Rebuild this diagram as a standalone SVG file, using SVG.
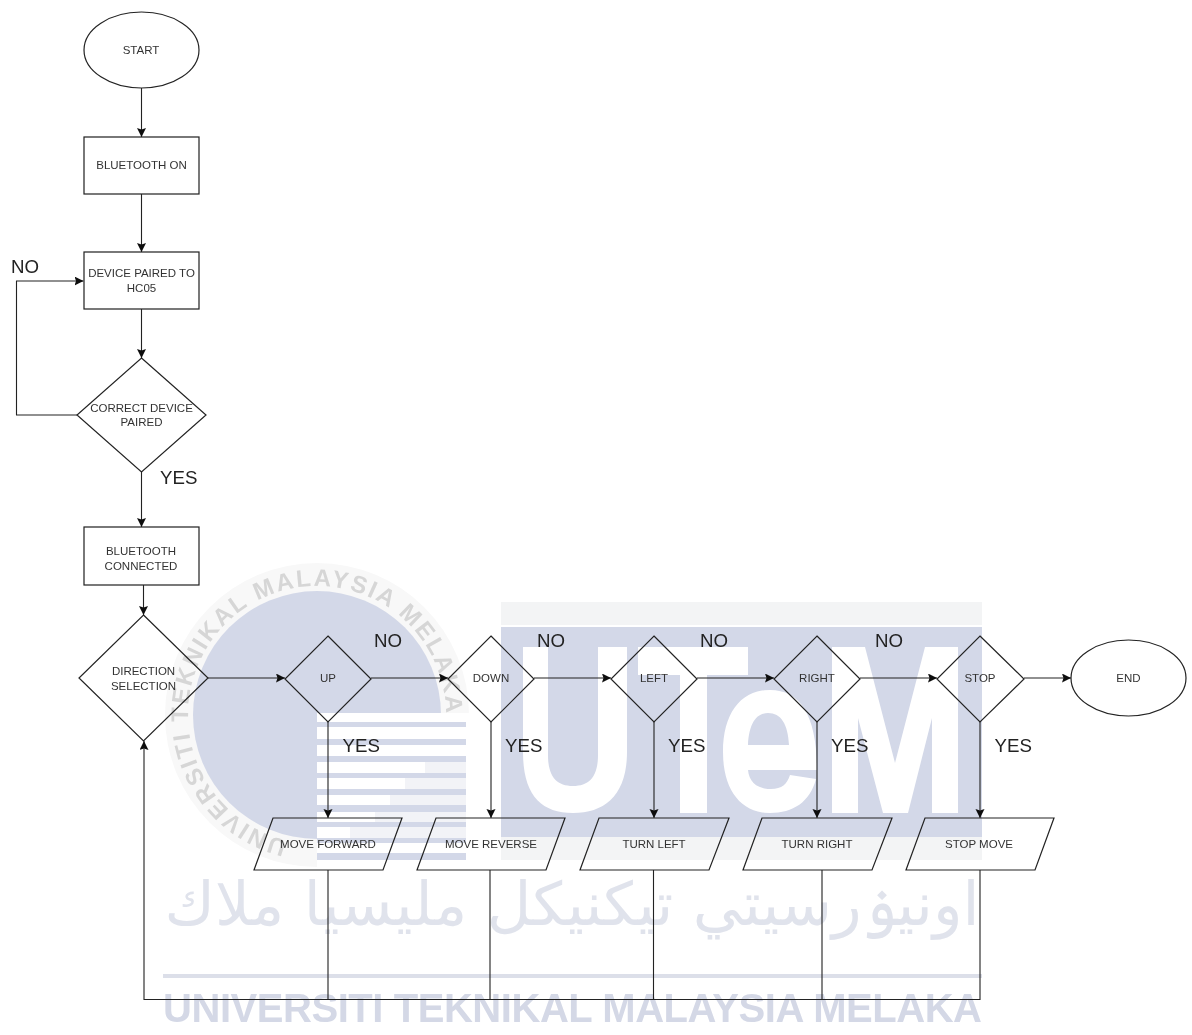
<svg xmlns="http://www.w3.org/2000/svg" width="1192" height="1035" viewBox="0 0 1192 1035">
<style>
.s{fill:none;stroke:#222;stroke-width:1.2}
.c{fill:none;stroke:#222;stroke-width:1.1}
.a{marker-end:url(#arr)}
.t{font-family:"Liberation Sans",Arial,sans-serif;font-size:11.5px;fill:#333;text-anchor:middle}
.l{font-family:"Liberation Sans",Arial,sans-serif;font-size:18.7px;fill:#222}
.wm{fill:#d3d8e8}
.f{fill:#f2f3f7}
.w{fill:#fff}
.wt{font-family:"Liberation Sans",Arial,sans-serif;font-weight:bold;fill:#d4d8e6}
</style>
<defs>
<marker id="arr" markerUnits="userSpaceOnUse" markerWidth="11" markerHeight="11" refX="9" refY="4.500" orient="auto">
<path d="M0 0L9 4.500L0 9L1.500 4.500Z" fill="#111"/>
</marker>
<filter id="b" x="-5%" y="-5%" width="110%" height="110%"><feGaussianBlur stdDeviation="0.7"/></filter>
<filter id="s" x="0" y="0" width="100%" height="100%" filterUnits="userSpaceOnUse" primitiveUnits="userSpaceOnUse"><feGaussianBlur stdDeviation="0.3"/></filter>
<path id="ring" d="M317 844A129 129 0 0 1 317 586A129 129 0 0 1 317 844"/>
</defs>
<rect width="1192" height="1035" fill="#fff"/>
<g id="watermark" filter="url(#b)">
<circle cx="317" cy="715" r="152" fill="#f8f8f8"/>
<circle cx="317" cy="715" r="124" class="wm"/>
<text class="wt" style="font-size:24px;letter-spacing:2.2px;fill:#d6d6d6"><textPath href="#ring" startOffset="30">UNIVERSITI TEKNIKAL MALAYSIA MELAKA</textPath></text>
<rect x="317" y="713" width="170" height="160" class="w"/>
<g class="wm">
<rect x="317" y="722" width="149" height="5"/>
<rect x="317" y="739" width="149" height="6"/>
<rect x="317" y="756" width="149" height="6"/>
<rect x="317" y="773" width="149" height="5"/>
<rect x="317" y="789" width="149" height="6"/>
<rect x="317" y="805" width="149" height="7"/>
<rect x="317" y="822" width="149" height="5"/>
<rect x="317" y="838" width="149" height="5"/>
<rect x="317" y="853" width="149" height="7"/>
</g>
<g class="f">
<rect x="425" y="762" width="41" height="11"/>
<rect x="405" y="778" width="61" height="11"/>
<rect x="390" y="795" width="76" height="10"/>
<rect x="375" y="812" width="91" height="10"/>
<rect x="350" y="827" width="116" height="11"/>
</g>
<rect x="501" y="602" width="481" height="23" fill="#f3f4f5"/>
<rect x="501" y="837" width="481" height="23" fill="#f3f4f5"/>
<rect x="501" y="627" width="481" height="210" class="wm"/>
<g class="w">
<path d="M523 647H548V755C548 777 557 786 573 786C589 786 598 777 598 755V647H627V752C627 795 605 813 573 813C541 813 523 795 523 752Z"/>
<path d="M638 647H748V675H707V813H680V675H638Z"/>
<path fill-rule="evenodd" d="M770 690C800 690 817 715 817 770H748C749 782 757 789 771 789C782 789 787 784 790 775L816 779C810 802 793 813 770 813C741 813 723 790 723 752C723 713 741 690 770 690ZM768 713C756 713 749 724 748 745H789C788 724 781 713 768 713Z"/>
<path d="M832 647H865L895 763L925 647H958V813H932V718L908 813H883L858 718V813H832Z"/>
</g>
<text x="572" y="925" direction="rtl" text-anchor="middle" style="font-family:'DejaVu Sans',sans-serif;font-size:60px;fill:#e0e3ec" textLength="815" lengthAdjust="spacingAndGlyphs">اونيۏرسيتي تيكنيكل مليسيا ملاك</text>
<rect x="163" y="974" width="819" height="4" fill="#dcdfe9"/>
<text class="wt" x="163" y="1022" style="font-size:40px" textLength="819" lengthAdjust="spacing">UNIVERSITI TEKNIKAL MALAYSIA MELAKA</text>
</g>
<g filter="url(#s)">
<g id="connectors">
<path class="c a" d="M141.5 88V137"/>
<path class="c a" d="M141.5 194V252"/>
<path class="c a" d="M141.5 309V358"/>
<path class="c a" d="M77 415H16.5V281H83.5"/>
<path class="c a" d="M141.5 472V527"/>
<path class="c a" d="M143.5 585V615"/>
<path class="c a" d="M208 678H285"/>
<path class="c a" d="M371 678H448"/>
<path class="c a" d="M534 678H611"/>
<path class="c a" d="M697 678H774"/>
<path class="c a" d="M860 678H937"/>
<path class="c a" d="M1024 678H1071"/>
<path class="c a" d="M328 722V818"/>
<path class="c a" d="M491 722V818"/>
<path class="c a" d="M654 722V818"/>
<path class="c a" d="M817 722V818"/>
<path class="c a" d="M980 722V818"/>
<path class="c a" d="M980 870V999.5H144V741"/>
<path class="c" d="M328 870V999.5M490 870V999.5M653.5 870V999.5M822 870V999.5"/>
</g>
<g id="start"><ellipse class="s" cx="141.5" cy="50" rx="57.5" ry="38"/><text class="t" x="141" y="54">START</text></g>
<g id="bluetooth-on"><rect class="s" x="84" y="137" width="115" height="57"/><text class="t" x="141.500" y="169">BLUETOOTH ON</text></g>
<g id="device-paired"><rect class="s" x="84" y="252" width="115" height="57"/><text class="t" x="141.500" y="277">DEVICE PAIRED TO</text><text class="t" x="141.500" y="292">HC05</text></g>
<g id="correct-device"><path class="s" d="M141.500 358L206 415L141.500 472L77 415Z"/><text class="t" x="141.500" y="412">CORRECT DEVICE</text><text class="t" x="141.500" y="426">PAIRED</text></g>
<g id="bluetooth-connected"><rect class="s" x="84" y="527" width="115" height="58"/><text class="t" x="141" y="555">BLUETOOTH</text><text class="t" x="141" y="570">CONNECTED</text></g>
<g id="direction"><path class="s" d="M143.500 615L208 678L143.500 741L79 678Z"/><text class="t" x="143.500" y="675">DIRECTION</text><text class="t" x="143.500" y="690">SELECTION</text></g>
<g id="up"><path class="s" d="M328 636L371 679L328 722L285 679Z"/><text class="t" x="328" y="682">UP</text></g>
<g id="down"><path class="s" d="M491 636L534 679L491 722L448 679Z"/><text class="t" x="491" y="682">DOWN</text></g>
<g id="left"><path class="s" d="M654 636L697 679L654 722L611 679Z"/><text class="t" x="654" y="682">LEFT</text></g>
<g id="right"><path class="s" d="M817 636L860 679L817 722L774 679Z"/><text class="t" x="817" y="682">RIGHT</text></g>
<g id="stop"><path class="s" d="M980 636L1024 679L980 722L937 679Z"/><text class="t" x="980" y="682">STOP</text></g>
<g id="end"><ellipse class="s" cx="1128.500" cy="678" rx="57.500" ry="38"/><text class="t" x="1128.500" y="682">END</text></g>
<g id="move-forward"><path class="s" d="M273 818H402L383 870H254Z"/><text class="t" x="328" y="848">MOVE FORWARD</text></g>
<g id="move-reverse"><path class="s" d="M436 818H565L546 870H417Z"/><text class="t" x="491" y="848">MOVE REVERSE</text></g>
<g id="turn-left"><path class="s" d="M599 818H729L709 870H580Z"/><text class="t" x="654" y="848">TURN LEFT</text></g>
<g id="turn-right"><path class="s" d="M762 818H892L872 870H743Z"/><text class="t" x="817" y="848">TURN RIGHT</text></g>
<g id="stop-move"><path class="s" d="M925 818H1054L1035 870H906Z"/><text class="t" x="979" y="848">STOP MOVE</text></g>
<g id="labels">
<text class="l" x="11" y="273">NO</text>
<text class="l" x="160" y="484">YES</text>
<text class="l" x="374" y="647">NO</text>
<text class="l" x="537" y="647">NO</text>
<text class="l" x="700" y="647">NO</text>
<text class="l" x="875" y="647">NO</text>
<text class="l" x="342.500" y="752">YES</text>
<text class="l" x="505" y="752">YES</text>
<text class="l" x="668" y="752">YES</text>
<text class="l" x="831" y="752">YES</text>
<text class="l" x="994.500" y="752">YES</text>
</g>
</g>
</svg>
